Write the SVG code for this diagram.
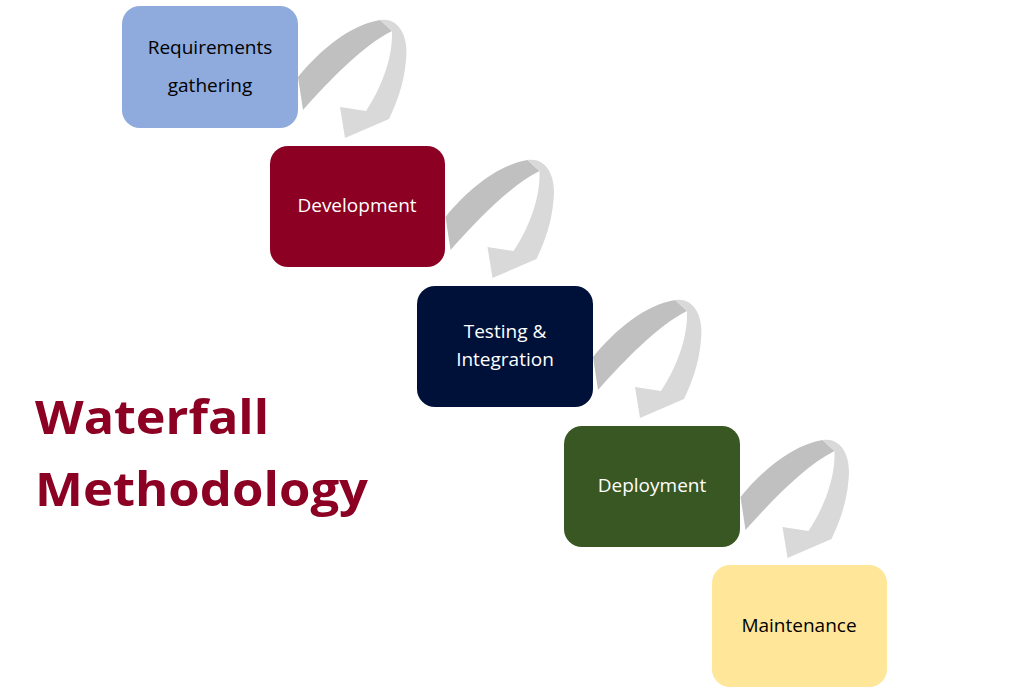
<svg xmlns="http://www.w3.org/2000/svg" width="1010" height="692" viewBox="0 0 1010 692">
<style>
.box{stroke:none}
.lbl{font-family:"Open Sans","Liberation Sans",sans-serif;font-size:19px;text-anchor:middle}
.title{font-family:"Open Sans","Liberation Sans",sans-serif;font-size:46px;font-weight:bold;fill:#8b0023}
</style>
<defs>
<g id="arrow">
<path d="M298,77 C320,50 350,25 380,20 L392,31 C362,46 330,80 303,110 Z" fill="#c0c0c0"/>
<path d="M380,20 C398,17 409,35 406,60 C404,85 396,104 389,119 L345,138 L340,107 L366,111 C380,90 393,60 392,31 Z" fill="#d9d9d9"/>
</g>
</defs>
<rect width="1010" height="692" fill="#fff"/>
<g id="connectors">
<use href="#arrow"/>
<use href="#arrow" transform="translate(147.5,140)"/>
<use href="#arrow" transform="translate(295,280)"/>
<use href="#arrow" transform="translate(442.5,420)"/>
</g>
<g id="n1"><rect class="box" x="122" y="6" width="176" height="122" rx="18" fill="#8faadc"/>
<text class="lbl" x="210" y="54" fill="#000">Requirements</text><text class="lbl" x="210" y="92" fill="#000">gathering</text></g>
<g id="n2"><rect class="box" x="270" y="146" width="175" height="121" rx="18" fill="#8b0023"/>
<text class="lbl" x="357" y="212" fill="#fff">Development</text></g>
<g id="n3"><rect class="box" x="417" y="286" width="176" height="121" rx="18" fill="#001139"/>
<text class="lbl" x="505" y="338" fill="#fff">Testing &amp;</text><text class="lbl" x="505" y="366" fill="#fff">Integration</text></g>
<g id="n4"><rect class="box" x="564" y="426" width="176" height="121" rx="18" fill="#385723"/>
<text class="lbl" x="652" y="492" fill="#fff">Deployment</text></g>
<g id="n5"><rect class="box" x="712" y="565" width="175" height="122" rx="18" fill="#ffe699"/>
<text class="lbl" x="799" y="632" fill="#000">Maintenance</text></g>
<g id="title">
<text class="title" x="35" y="434" textLength="234" lengthAdjust="spacingAndGlyphs">Waterfall</text>
<text class="title" x="35" y="506" textLength="333" lengthAdjust="spacingAndGlyphs">Methodology</text>
</g>
</svg>
